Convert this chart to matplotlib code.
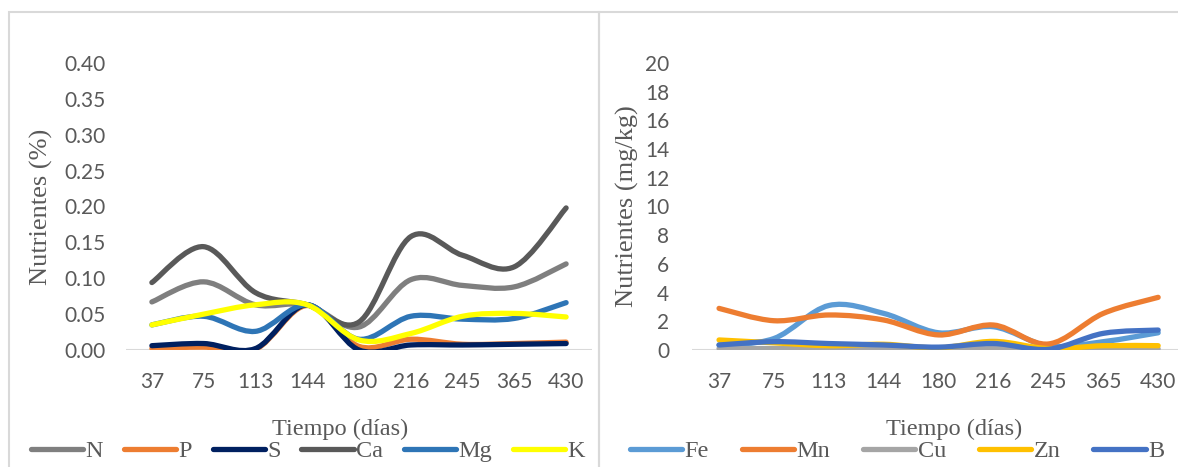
import numpy as np
import matplotlib.pyplot as plt
from matplotlib.path import Path
from matplotlib.patches import PathPatch, Rectangle
from matplotlib.lines import Line2D

# Sampling days (categories)
dias = ["37", "75", "113", "144", "180", "216", "245", "365", "430"]

# Macronutrients (%)
N = [0.067, 0.095, 0.063, 0.063, 0.032, 0.098, 0.090, 0.088, 0.120]
P = [0.002, 0.004, 0.001, 0.062, 0.005, 0.015, 0.008, 0.009, 0.011]
S = [0.006, 0.009, 0.002, 0.063, 0.000, 0.007, 0.007, 0.008, 0.009]
Ca = [0.094, 0.144, 0.080, 0.063, 0.039, 0.158, 0.132, 0.116, 0.198]
Mg = [0.035, 0.047, 0.026, 0.063, 0.015, 0.047, 0.043, 0.044, 0.066]
K = [0.035, 0.050, 0.063, 0.063, 0.014, 0.023, 0.047, 0.051, 0.046]

# Micronutrients (mg/kg)
Fe = [0.35, 0.80, 3.10, 2.55, 1.20, 1.62, 0.28, 0.58, 1.20]
Mn = [2.90, 2.04, 2.44, 2.09, 1.05, 1.74, 0.42, 2.55, 3.67]
Cu = [0.10, 0.10, 0.10, 0.10, 0.08, 0.12, 0.05, 0.08, 0.08]
Zn = [0.70, 0.50, 0.30, 0.40, 0.15, 0.60, 0.10, 0.30, 0.30]
B = [0.35, 0.58, 0.45, 0.35, 0.20, 0.45, 0.05, 1.16, 1.39]

macro = [("N", N, "#7f7f7f"), ("P", P, "#ed7d31"), ("S", S, "#002060"),
         ("Ca", Ca, "#595959"), ("Mg", Mg, "#2e75b6"), ("K", K, "#ffff00")]
micro = [("Fe", Fe, "#5b9bd5"), ("Mn", Mn, "#ed7d31"), ("Cu", Cu, "#a5a5a5"),
         ("Zn", Zn, "#ffc000"), ("B", B, "#4472c4")]

LW = 3.8
TXT = "#595959"
GRID = "#d9d9d9"
SERIF = "Liberation Serif"
SANS = "Lato"


def smooth_path(y):
    # Excel-style smoothed line: cubic Bezier through each point
    pts = np.column_stack([np.arange(len(y)), y]).astype(float)
    n = len(pts)
    verts = [pts[0]]
    codes = [Path.MOVETO]
    for i in range(n - 1):
        p0 = pts[i - 1] if i > 0 else pts[i]
        p1, p2 = pts[i], pts[i + 1]
        p3 = pts[i + 2] if i + 2 < n else pts[i + 1]
        c1 = p1 + (p2 - p0) / 6
        c2 = p2 - (p3 - p1) / 6
        verts += [c1, c2, p2]
        codes += [Path.CURVE4] * 3
    return Path(verts, codes)


def panel(ax, series, ymax, step, fmt, ylabel, pad_y):
    for name, vals, col in series:
        ax.add_patch(PathPatch(smooth_path(vals), fill=False, edgecolor=col,
                               lw=LW, capstyle="round", joinstyle="round"))
    ax.set_xlim(-0.5, len(dias) - 0.5)
    ax.set_ylim(0, ymax)
    ax.set_xticks(range(len(dias)))
    ax.set_xticklabels(dias)
    ticks = np.arange(0, ymax + step / 2, step)
    ax.set_yticks(ticks)
    ax.set_yticklabels([fmt.format(t) for t in ticks])
    for s in ax.spines.values():
        s.set_visible(False)
    ax.axhline(0, color=GRID, lw=1.5, zorder=0)
    ax.tick_params(length=0, labelsize=15, labelcolor=TXT, pad=pad_y)
    ax.tick_params(axis="x", pad=16)
    for lab in ax.get_xticklabels() + ax.get_yticklabels():
        lab.set_fontfamily(SANS)
    ax.set_ylabel(ylabel, fontsize=19, family=SERIF, color=TXT)
    handles = [Line2D([], [], color=c, lw=LW, solid_capstyle="round", label=n)
               for n, _, c in series]
    return handles


fig = plt.figure(figsize=(11.78, 4.67), dpi=100)
W, H = 1178, 467

# panel frames
fig.patches.append(Rectangle((9 / W, -0.1), 590 / W, 1.1 - 12 / H,
                             transform=fig.transFigure, fill=False,
                             edgecolor=GRID, lw=1.5))
fig.patches.append(Rectangle((599 / W, -0.1), 0.6, 1.1 - 12 / H,
                             transform=fig.transFigure, fill=False,
                             edgecolor=GRID, lw=1.5))

ax1 = fig.add_axes([126 / W, 117 / H, 466 / W, 287 / H])
ax2 = fig.add_axes([691.6 / W, 117 / H, 494 / W, 287 / H])

h1 = panel(ax1, macro, 0.40, 0.05, "{:.2f}", "Nutrientes (%)", 15)
h2 = panel(ax2, micro, 20, 2, "{:.0f}", "Nutrientes (mg/kg)", 16)
ax1.yaxis.set_label_coords(-73 / 466, 0.5)
ax2.yaxis.set_label_coords(-53 / 494, 0.5)

fig.text(340 / W, 1 - 429 / H, "Tiempo (días)", ha="center", va="center",
         fontsize=17.5, family=SERIF, color=TXT)
fig.text(954 / W, 1 - 429 / H, "Tiempo (días)", ha="center", va="center",
         fontsize=17.5, family=SERIF, color=TXT)

leg_kw = dict(ncol=6, frameon=False, handlelength=2.15, handletextpad=0.1,
              columnspacing=0.85, borderaxespad=0, borderpad=0,
              prop={"family": SERIF, "size": 17.5}, labelcolor=TXT,
              bbox_transform=fig.transFigure, loc="center")
fig.legend(handles=h1, bbox_to_anchor=(308 / W, 1 - 451 / H), **leg_kw)
leg_kw["ncol"] = 5
leg_kw["columnspacing"] = 1.35
fig.legend(handles=h2, bbox_to_anchor=(897 / W, 1 - 451 / H), **leg_kw)

fig.savefig("out.png", dpi=100)
